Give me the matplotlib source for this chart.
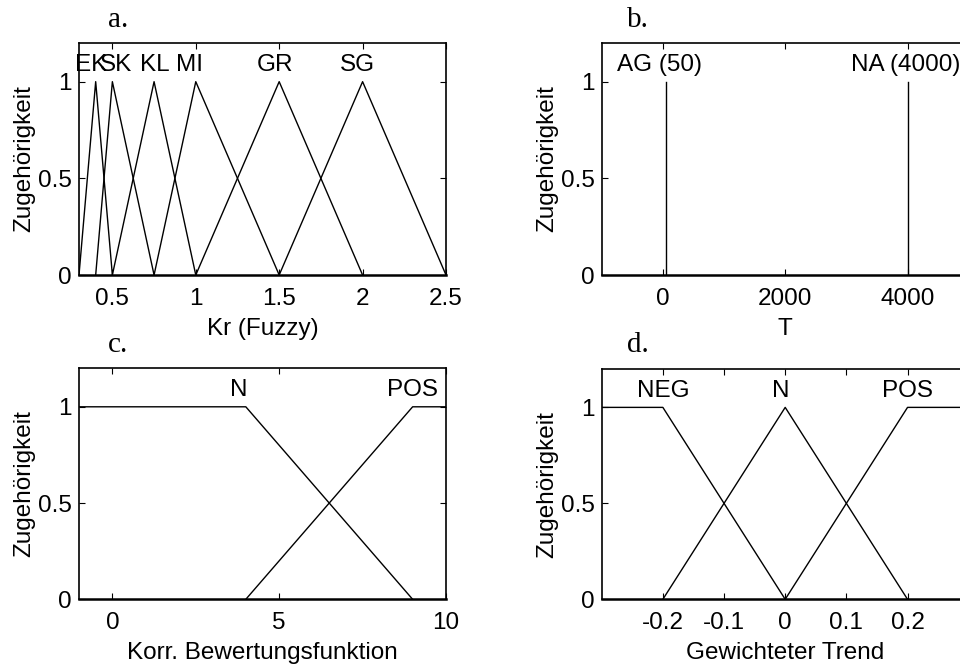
import matplotlib
matplotlib.use("Agg")
import matplotlib.pyplot as plt

plt.rcParams['font.family'] = ['Liberation Sans', 'DejaVu Sans']
plt.rcParams['axes.unicode_minus'] = False

# ---- data ----
# panel a: Kr (Fuzzy), triangular MFs [left, peak, right]
a_names = ["EK", "SK", "KL", "MI", "GR", "SG"]
a_left = [0.3, 0.4, 0.5, 0.75, 1.0, 1.5]
a_peak = [0.4, 0.5, 0.75, 1.0, 1.5, 2.0]
a_right = [0.5, 0.75, 1.0, 1.5, 2.0, 2.5]
a_label_x = [0.37, 0.52, 0.755, 0.965, 1.475, 1.97]
a_xticks = [0.5, 1, 1.5, 2, 2.5]
a_xticklabels = ["0.5", "1", "1.5", "2", "2.5"]

# panel b: T, singleton MFs
b_names = ["AG (50)", "NA (4000)"]
b_centers = [50, 4000]
b_label_x = [-50, 3970]
b_xticks = [0, 2000, 4000]
b_xticklabels = ["0", "2000", "4000"]

# panel c: Korr. Bewertungsfunktion, trapezoids
c_names = ["N", "POS"]
c_x = [[-1, 4, 9], [4, 9, 10]]
c_y = [[1, 1, 0], [0, 1, 1]]
c_label_x = [3.8, 9.0]
c_xticks = [0, 5, 10]
c_xticklabels = ["0", "5", "10"]

# panel d: Gewichteter Trend
d_names = ["NEG", "N", "POS"]
d_x = [[-0.3, -0.2, 0.0], [-0.2, 0.0, 0.2], [0.0, 0.2, 0.3]]
d_y = [[1, 1, 0], [0, 1, 0], [0, 1, 1]]
d_label_x = [-0.2, -0.007, 0.2]
d_xticks = [-0.2, -0.1, 0, 0.1, 0.2]
d_xticklabels = ["-0.2", "-0.1", "0", "0.1", "0.2"]

yticks = [0, 0.5, 1]
yticklabels = ["0", "0.5", "1"]

FS = 17.5
LW = 1.0
LABEL_Y = 1.055

fig = plt.figure(figsize=(9.6, 6.66), dpi=100)
W, H = 960, 666

def make_ax(left_px, top_px, bottom_px, width_px=367):
    ax = fig.add_axes([left_px / W, 1 - bottom_px / H, width_px / W, (bottom_px - top_px) / H])
    ax.set_ylim(0, 1.2)
    ax.set_yticks(yticks)
    ax.set_yticklabels(yticklabels)
    ax.tick_params(direction='in', top=True, right=True, length=4, width=0.8,
                   labelsize=FS, color='black')
    ax.tick_params(axis='x', pad=9)
    ax.tick_params(axis='y', pad=5)
    for s in ax.spines.values():
        s.set_linewidth(1.2)
    ax.spines['bottom'].set_linewidth(1.8)
    ax.set_ylabel("Zugehörigkeit", fontsize=FS, labelpad=2)
    return ax

ax_a = make_ax(79, 43, 275)
ax_b = make_ax(601.7, 43, 275)
ax_c = make_ax(79, 368.3, 599.3)
ax_d = make_ax(601.7, 369, 599.3)

XLP = 6

# panel a
for n, l, p, r, lx in zip(a_names, a_left, a_peak, a_right, a_label_x):
    ax_a.plot([l, p, r], [0, 1, 0], color='black', lw=LW)
    ax_a.text(lx, LABEL_Y, n, ha='center', va='baseline', fontsize=FS)
ax_a.set_xlim(0.3, 2.5)
ax_a.set_xticks(a_xticks)
ax_a.set_xticklabels(a_xticklabels)
ax_a.set_xlabel("Kr (Fuzzy)", fontsize=FS, labelpad=XLP)

# panel b
for n, c, lx in zip(b_names, b_centers, b_label_x):
    ax_b.plot([c, c], [0, 1], color='black', lw=LW)
    ax_b.text(lx, LABEL_Y, n, ha='center', va='baseline', fontsize=FS)
ax_b.set_xlim(-1000, 5000)
ax_b.set_xticks(b_xticks)
ax_b.set_xticklabels(b_xticklabels)
ax_b.set_xlabel("T", fontsize=FS, labelpad=XLP)

# panel c
for n, xs, ys, lx in zip(c_names, c_x, c_y, c_label_x):
    ax_c.plot(xs, ys, color='black', lw=LW)
    ax_c.text(lx, LABEL_Y, n, ha='center', va='baseline', fontsize=FS)
ax_c.set_xlim(-1, 10)
ax_c.set_xticks(c_xticks)
ax_c.set_xticklabels(c_xticklabels)
ax_c.set_xlabel("Korr. Bewertungsfunktion", fontsize=FS, labelpad=XLP)

# panel d
for n, xs, ys, lx in zip(d_names, d_x, d_y, d_label_x):
    ax_d.plot(xs, ys, color='black', lw=LW)
    ax_d.text(lx, LABEL_Y, n, ha='center', va='baseline', fontsize=FS)
ax_d.set_xlim(-0.3, 0.3)
ax_d.set_xticks(d_xticks)
ax_d.set_xticklabels(d_xticklabels)
ax_d.set_xlabel("Gewichteter Trend", fontsize=FS, labelpad=XLP)

# panel letters
serif = ['Liberation Serif', 'DejaVu Serif']
for txt, x, y in [("a.", 118, 20), ("b.", 638, 20), ("c.", 118, 345), ("d.", 638, 345)]:
    fig.text(x / W, 1 - y / H, txt, ha='center', va='center', fontsize=21, family=serif)

fig.savefig("out.png", dpi=100)
